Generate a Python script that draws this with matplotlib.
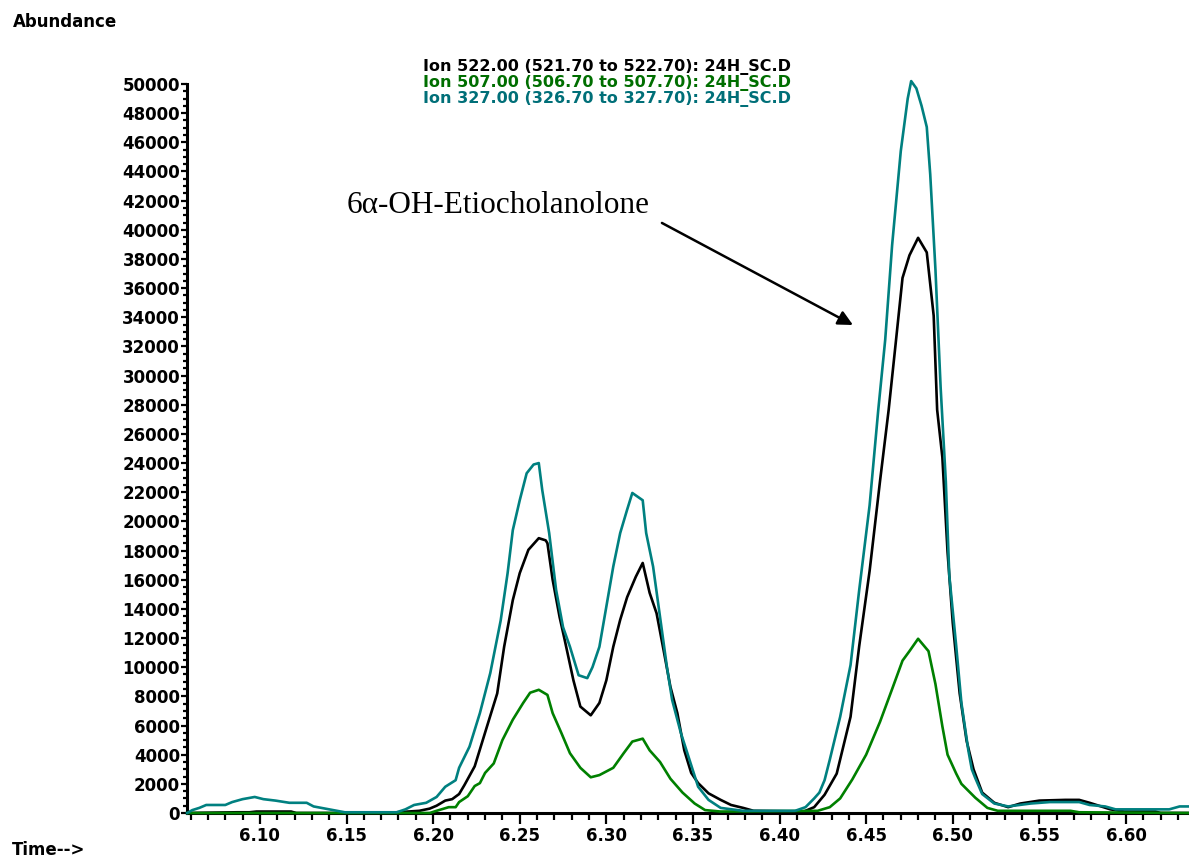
import matplotlib
matplotlib.use("Agg")
import matplotlib.pyplot as plt
from matplotlib.ticker import MultipleLocator, FixedLocator

# ─── Data ─────────────────────────────────────────────────────────────────────
# Ion 522.00 (black)
t_522 = [6.058, 6.087, 6.094, 6.098, 6.118, 6.121, 6.175, 6.179, 6.192, 6.198,
         6.202, 6.207, 6.211, 6.215, 6.218, 6.224, 6.231, 6.237, 6.241, 6.246,
         6.250, 6.255, 6.261, 6.265, 6.266, 6.269, 6.273, 6.276, 6.281, 6.285,
         6.291, 6.296, 6.300, 6.304, 6.308, 6.312, 6.317, 6.321, 6.325, 6.329,
         6.333, 6.337, 6.341, 6.345, 6.349, 6.353, 6.359, 6.366, 6.372, 6.379,
         6.385, 6.414, 6.420, 6.426, 6.433, 6.441, 6.446, 6.452, 6.458, 6.463,
         6.467, 6.471, 6.475, 6.480, 6.485, 6.489, 6.491, 6.494, 6.497, 6.500,
         6.504, 6.508, 6.512, 6.517, 6.524, 6.532, 6.539, 6.550, 6.565, 6.573,
         6.579, 6.591, 6.599, 6.617, 6.620, 6.636]
a_522 = [0, 50, 50, 100, 100, 0, 0, 50, 150, 300,
         500, 850, 950, 1300, 1900, 3200, 5900, 8200, 11400, 14600,
         16450, 18050, 18850, 18700, 18500, 16000, 13450, 11850, 9100, 7300,
         6700, 7550, 9100, 11400, 13250, 14800, 16200, 17150, 15100, 13700,
         11200, 8650, 6850, 4300, 2750, 2050, 1350, 900, 550, 350,
         150, 100, 400, 1250, 2700, 6600, 11450, 16600, 22750, 27650,
         32150, 36700, 38250, 39450, 38450, 34100, 27650, 24400, 17900, 13050,
         8200, 4950, 3000, 1400, 700, 400, 650, 850, 900, 900,
         700, 250, 100, 100, 0, 0]

# Ion 507.00 (green)
t_507 = [6.058, 6.198, 6.202, 6.209, 6.213, 6.215, 6.220, 6.224, 6.227, 6.230,
         6.235, 6.240, 6.246, 6.252, 6.256, 6.261, 6.266, 6.269, 6.274, 6.279,
         6.285, 6.291, 6.296, 6.304, 6.310, 6.315, 6.321, 6.325, 6.331, 6.337,
         6.344, 6.351, 6.357, 6.366, 6.422, 6.429, 6.435, 6.442, 6.450, 6.458,
         6.465, 6.471, 6.475, 6.480, 6.486, 6.490, 6.494, 6.497, 6.502, 6.505,
         6.513, 6.520, 6.526, 6.568, 6.573, 6.636]
a_507 = [0, 0, 150, 400, 400, 750, 1150, 1850, 2050, 2750,
         3400, 5000, 6400, 7550, 8250, 8450, 8100, 6850, 5500, 4100,
         3100, 2450, 2600, 3100, 4100, 4900, 5100, 4300, 3500, 2350,
         1400, 650, 200, 100, 150, 400, 1000, 2300, 4000, 6250,
         8500, 10450, 11100, 11950, 11100, 8850, 5950, 4000, 2700, 2000,
         1050, 350, 150, 150, 50, 0]

# Ion 327.00 (teal)
t_327 = [6.058, 6.061, 6.065, 6.069, 6.080, 6.084, 6.090, 6.097, 6.102, 6.109,
         6.117, 6.127, 6.131, 6.140, 6.149, 6.179, 6.184, 6.189, 6.196, 6.202,
         6.207, 6.213, 6.215, 6.221, 6.227, 6.233, 6.239, 6.243, 6.246, 6.250,
         6.254, 6.258, 6.261, 6.263, 6.267, 6.271, 6.275, 6.279, 6.284, 6.289,
         6.292, 6.296, 6.300, 6.304, 6.308, 6.312, 6.315, 6.321, 6.323, 6.327,
         6.331, 6.335, 6.338, 6.343, 6.348, 6.353, 6.359, 6.366, 6.379, 6.409,
         6.415, 6.420, 6.423, 6.426, 6.429, 6.435, 6.441, 6.446, 6.452, 6.457,
         6.461, 6.465, 6.470, 6.474, 6.476, 6.479, 6.482, 6.485, 6.487, 6.490,
         6.493, 6.496, 6.498, 6.502, 6.505, 6.509, 6.511, 6.513, 6.517, 6.524,
         6.532, 6.545, 6.556, 6.573, 6.579, 6.588, 6.594, 6.625, 6.631, 6.636]
a_327 = [0, 200, 350, 550, 550, 750, 950, 1100, 950, 850,
         700, 700, 450, 250, 50, 50, 250, 550, 700, 1100,
         1800, 2250, 3100, 4550, 6850, 9600, 13200, 16450, 19400, 21450,
         23300, 23900, 24000, 22150, 19200, 15300, 12750, 11400, 9450, 9250,
         10000, 11400, 14150, 16900, 19200, 20800, 21950, 21450, 19200, 16900,
         13450, 10000, 7750, 5500, 3650, 1800, 900, 350, 150, 150,
         400, 1000, 1400, 2250, 3650, 6600, 10150, 15300, 21100, 27650,
         32450, 38950, 45400, 49000, 50200, 49700, 48500, 47050, 43800, 37300,
         29200, 22750, 16300, 11450, 7550, 4300, 3000, 2400, 1300, 650,
         450, 650, 750, 750, 550, 450, 250, 250, 450, 450]

LEGEND_LINES = [
    ("Ion 522.00 (521.70 to 522.70): 24H_SC.D", "black"),
    ("Ion 507.00 (506.70 to 507.70): 24H_SC.D", "#006e00"),
    ("Ion 327.00 (326.70 to 327.70): 24H_SC.D", "#006f78"),
]
X_TICKS = [6.10, 6.15, 6.20, 6.25, 6.30, 6.35, 6.40, 6.45, 6.50, 6.55, 6.60]
Y_TICKS = list(range(0, 50001, 2000))

W, H = 1189, 857
fig = plt.figure(figsize=(W / 100, H / 100), dpi=100)
ax = fig.add_axes([187 / W, 44 / H, (W - 187) / W, 729 / H])

ax.plot(t_522, a_522, color="black", lw=1.9, zorder=3, clip_on=False)
ax.plot(t_507, a_507, color="#008000", lw=1.9, zorder=4, clip_on=False)
ax.plot(t_327, a_327, color="#008080", lw=1.9, zorder=5, clip_on=False)

ax.set_xlim(6.0579, 6.6364)
ax.set_ylim(0, 50000)
for s in ("top", "right"):
    ax.spines[s].set_visible(False)
for s in ("left", "bottom"):
    ax.spines[s].set_linewidth(2.2)

tick_font = dict(fontsize=12, fontweight="bold", family="DejaVu Sans")
ax.xaxis.set_major_locator(FixedLocator(X_TICKS))
ax.xaxis.set_minor_locator(MultipleLocator(0.01))
ax.set_xticklabels([f"{v:.2f}" for v in X_TICKS], **tick_font)
ax.yaxis.set_major_locator(FixedLocator(Y_TICKS))
ax.yaxis.set_minor_locator(MultipleLocator(500))
ax.set_yticklabels([str(v) for v in Y_TICKS], **tick_font)
ax.tick_params(axis="x", which="major", length=8, width=1.6, pad=2)
ax.tick_params(axis="x", which="minor", length=5, width=1.6)
ax.tick_params(axis="y", which="major", length=4, width=1.6, pad=1)
ax.tick_params(axis="y", which="minor", length=3, width=1.6)

fig.text(13 / W, 1 - 22 / H, "Abundance", ha="left", va="center",
         fontsize=12, fontweight="bold")
fig.text(12 / W, 1 - 850 / H, "Time-->", ha="left", va="center",
         fontsize=12, fontweight="bold")

for i, (txt, col) in enumerate(LEGEND_LINES):
    fig.text(423 / W, 1 - (67 + 16 * i) / H, txt, ha="left", va="center",
             fontsize=11.5, fontweight="bold", color=col)

ax.text(6.1502, 41700, "6\u03b1-OH-Etiocholanolone", family="Liberation Serif",
        fontsize=22.5, ha="left", va="center")
ax.annotate("", xy=(6.4424, 33470), xytext=(6.3321, 40470),
            arrowprops=dict(arrowstyle="-|>", color="black", lw=1.8,
                            mutation_scale=22, shrinkA=0, shrinkB=0))

fig.savefig("out.png", dpi=100)
